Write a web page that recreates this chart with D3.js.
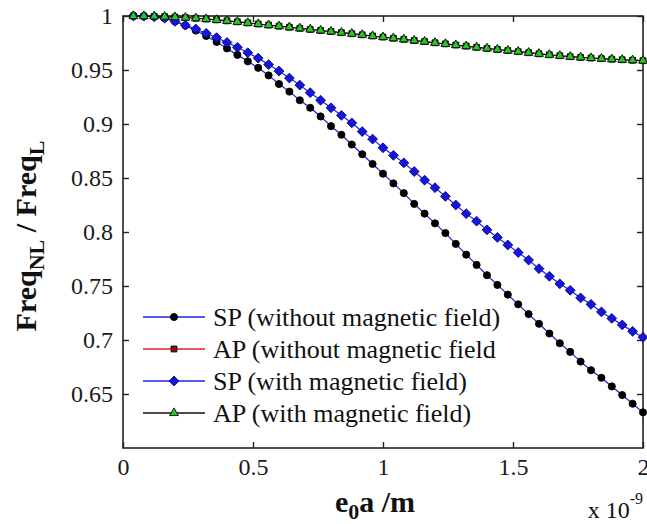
<!DOCTYPE html>
<html>
<head>
<meta charset="utf-8">
<script src="https://cdn.jsdelivr.net/npm/d3@7"></script>
<style>
  html, body { margin: 0; padding: 0; background: #fff; }
  svg { display: block; }
</style>
</head>
<body>
<svg id="chart" width="647" height="524"></svg>
<script>
// Nonlocal parameter e0a, in units of 1e-9 m
const xValues = [0.04, 0.08, 0.12, 0.16, 0.20, 0.24, 0.28, 0.32, 0.36, 0.40,
                 0.44, 0.48, 0.52, 0.56, 0.60, 0.64, 0.68, 0.72, 0.76, 0.80,
                 0.84, 0.88, 0.92, 0.96, 1.00, 1.04, 1.08, 1.12, 1.16, 1.20,
                 1.24, 1.28, 1.32, 1.36, 1.40, 1.44, 1.48, 1.52, 1.56, 1.60,
                 1.64, 1.68, 1.72, 1.76, 1.80, 1.84, 1.88, 1.92, 1.96, 2.00];

// Frequency ratio Freq_NL / Freq_L for each case
const spWithout = [1.000, 0.9998, 0.9993, 0.998, 0.995, 0.9912, 0.9865, 0.9815, 0.976, 0.970,
                   0.964, 0.958, 0.952, 0.945, 0.937, 0.930, 0.922, 0.915, 0.907, 0.898,
                   0.890, 0.881, 0.872, 0.863, 0.854, 0.845, 0.836, 0.826, 0.817, 0.808,
                   0.799, 0.789, 0.779, 0.7695, 0.760, 0.751, 0.742, 0.733, 0.724, 0.715,
                   0.706, 0.697, 0.689, 0.680, 0.672, 0.665, 0.657, 0.649, 0.641, 0.633];

const apWithout = [1.0000, 0.9999, 0.9997, 0.9994, 0.9990, 0.9985, 0.9979, 0.9972, 0.9964, 0.9955,
                   0.9946, 0.9936, 0.9926, 0.9916, 0.9906, 0.9896, 0.9886, 0.9876, 0.9866, 0.9856,
                   0.9846, 0.9836, 0.9826, 0.9815, 0.9805, 0.9794, 0.9784, 0.9773, 0.9763, 0.9752,
                   0.9742, 0.9731, 0.9721, 0.9710, 0.9700, 0.9690, 0.9680, 0.9670, 0.9660, 0.9650,
                   0.9641, 0.9632, 0.9623, 0.9617, 0.9611, 0.9605, 0.9600, 0.9595, 0.9590, 0.9586];

const spWith = [1.000, 0.9998, 0.9993, 0.998, 0.995, 0.9915, 0.988, 0.984, 0.980, 0.9755,
                0.971, 0.966, 0.961, 0.955, 0.949, 0.9425, 0.936, 0.929, 0.922, 0.915,
                0.908, 0.901, 0.893, 0.886, 0.878, 0.871, 0.864, 0.856, 0.848, 0.841,
                0.833, 0.825, 0.817, 0.810, 0.802, 0.795, 0.788, 0.781, 0.774, 0.766,
                0.759, 0.752, 0.746, 0.739, 0.733, 0.726, 0.720, 0.714, 0.708, 0.7025];

const apWith = [1.0000, 0.9999, 0.9997, 0.9994, 0.9990, 0.9985, 0.9979, 0.9972, 0.9964, 0.9955,
                0.9946, 0.9936, 0.9926, 0.9916, 0.9906, 0.9896, 0.9886, 0.9876, 0.9866, 0.9856,
                0.9846, 0.9836, 0.9826, 0.9815, 0.9805, 0.9794, 0.9784, 0.9773, 0.9763, 0.9752,
                0.9742, 0.9731, 0.9721, 0.9710, 0.9700, 0.9690, 0.9680, 0.9670, 0.9660, 0.9650,
                0.9641, 0.9632, 0.9623, 0.9617, 0.9611, 0.9605, 0.9600, 0.9595, 0.9591, 0.9587];

const seriesNames = ["SP (without magnetic field)", "AP (without magnetic field",
                     "SP (with magnetic field)", "AP (with magnetic field)"];

const xTicks = [0, 0.5, 1, 1.5, 2];
const xTickLabels = ["0", "0.5", "1", "1.5", "2"];
const yTicks = [0.65, 0.7, 0.75, 0.8, 0.85, 0.9, 0.95, 1];
const yTickLabels = ["0.65", "0.7", "0.75", "0.8", "0.85", "0.9", "0.95", "1"];

// Diamond drawn as a square turned by 45 degrees (equal width and height)
const diamondSym = {
  draw(ctx, size) {
    const r = Math.sqrt(size / 2);
    ctx.moveTo(0, -r); ctx.lineTo(r, 0); ctx.lineTo(0, r); ctx.lineTo(-r, 0); ctx.closePath();
  }
};

// Series styling: line colour, marker shape, fill, edge
const styles = [
  { data: spWithout, line: "#1f1fe0", symbol: d3.symbolCircle,   size: 40, fill: "#000",    stroke: "#000" },
  { data: apWithout, line: "#e0202a", symbol: d3.symbolSquare,   size: 34, fill: "#8a1010", stroke: "#000" },
  { data: spWith,    line: "#2020e8", symbol: diamondSym,        size: 48, fill: "#1414e6", stroke: "#0a0a60" },
  { data: apWith,    line: "#111",    symbol: d3.symbolTriangle, size: 34, fill: "#22cc22", stroke: "#0a0a0a" }
];

const svg = d3.select("#chart");
const plotLeft = 123, plotRight = 643, plotTop = 16, plotBottom = 448;
const x = d3.scaleLinear().domain([0, 2]).range([plotLeft, plotRight]);
const y = d3.scaleLinear().domain([0.6, 1]).range([plotBottom, plotTop]);

const serif = "\"Liberation Serif\", \"Times New Roman\", serif";
const axisColor = "#222";

// Plot frame
svg.append("rect")
  .attr("x", plotLeft).attr("y", plotTop)
  .attr("width", plotRight - plotLeft).attr("height", plotBottom - plotTop)
  .attr("fill", "none").attr("stroke", axisColor).attr("stroke-width", 1.6);

function styleAxis(g) {
  g.attr("font-family", null).attr("font-size", null);
  g.select(".domain").remove();
  g.selectAll(".tick line").attr("stroke", axisColor).attr("stroke-width", 1.4);
  g.selectAll(".tick text").attr("fill", "#1a1a1a")
    .style("font-family", serif).style("font-size", "24px");
}

svg.append("g").attr("transform", `translate(0,${plotBottom})`)
  .call(d3.axisBottom(x).tickValues(xTicks).tickFormat((d, i) => xTickLabels[i])
    .tickSizeInner(-6).tickSizeOuter(0).tickPadding(10))
  .call(styleAxis);

svg.append("g").attr("transform", `translate(${plotLeft},0)`)
  .call(d3.axisLeft(y).tickValues(yTicks).tickFormat((d, i) => yTickLabels[i])
    .tickSizeInner(-6).tickSizeOuter(0).tickPadding(10))
  .call(styleAxis);

svg.append("g").attr("transform", `translate(0,${plotTop})`)
  .call(d3.axisTop(x).tickValues(xTicks).tickFormat("").tickSizeInner(-6).tickSizeOuter(0))
  .call(styleAxis);

svg.append("g").attr("transform", `translate(${plotRight},0)`)
  .call(d3.axisRight(y).tickValues(yTicks).tickFormat("").tickSizeInner(-6).tickSizeOuter(0))
  .call(styleAxis);

// Curves and markers
const line = d3.line().x(d => x(d[0])).y(d => y(d[1]));
styles.forEach(s => {
  const pts = xValues.map((xv, i) => [xv, s.data[i]]);
  const g = svg.append("g");
  g.append("path").datum(pts)
    .attr("d", line).attr("fill", "none")
    .attr("stroke", s.line).attr("stroke-width", 1.2);
  g.selectAll("path.m").data(pts).join("path").attr("class", "m")
    .attr("transform", d => `translate(${x(d[0])},${y(d[1])})`)
    .attr("d", d3.symbol().type(s.symbol).size(s.size))
    .attr("fill", s.fill).attr("stroke", s.stroke).attr("stroke-width", 0.9);
});

// Legend
const legendRows = [317, 349, 381, 413];
const legend = svg.append("g");
styles.forEach((s, i) => {
  const ry = legendRows[i];
  legend.append("line").attr("x1", 143).attr("x2", 205).attr("y1", ry).attr("y2", ry)
    .attr("stroke", s.line).attr("stroke-width", 1.4);
  legend.append("path").attr("transform", `translate(174,${ry})`)
    .attr("d", d3.symbol().type(s.symbol).size(s.size))
    .attr("fill", s.fill).attr("stroke", s.stroke).attr("stroke-width", 0.9);
  legend.append("text").attr("x", 213).attr("y", ry).attr("dy", "0.34em")
    .style("font-family", serif).style("font-size", "26px").attr("fill", "#111")
    .text(seriesNames[i]);
});

// Y-axis title: Freq_NL / Freq_L
const yTitle = svg.append("text")
  .attr("transform", "translate(36,236) rotate(-90)")
  .attr("text-anchor", "middle")
  .style("font-family", serif).style("font-weight", "bold").style("font-size", "30px")
  .attr("fill", "#111");
yTitle.append("tspan").text("Freq");
yTitle.append("tspan").attr("dy", 8).style("font-size", "22px").text("NL");
yTitle.append("tspan").attr("dy", -8).text(" / Freq");
yTitle.append("tspan").attr("dy", 8).style("font-size", "22px").text("L");

// X-axis title: e_0 a /m
const xTitle = svg.append("text")
  .attr("x", 375).attr("y", 512)
  .attr("text-anchor", "middle")
  .style("font-family", serif).style("font-weight", "bold").style("font-size", "30px")
  .attr("fill", "#111");
xTitle.append("tspan").text("e");
xTitle.append("tspan").attr("dy", 7).style("font-size", "22px").text("0");
xTitle.append("tspan").attr("dy", -7).text("a /m");

// Exponent multiplier for the x axis
const expo = svg.append("text")
  .attr("x", 643).attr("y", 518)
  .attr("text-anchor", "end")
  .style("font-family", serif).style("font-size", "24px").attr("fill", "#111");
expo.append("tspan").text("x 10");
expo.append("tspan").attr("dy", -14).style("font-size", "16px").text("-9");
</script>
</body>
</html>
